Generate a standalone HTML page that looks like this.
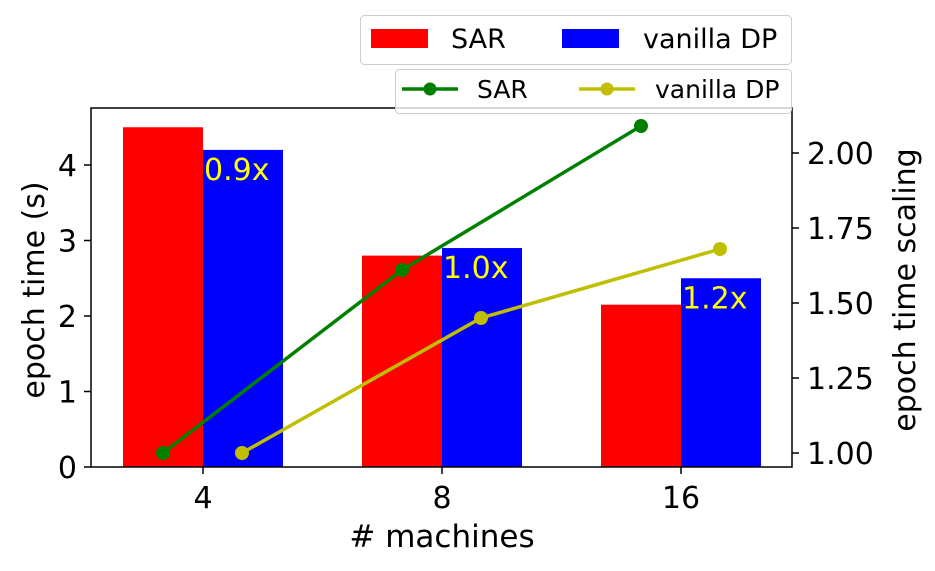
<!DOCTYPE html>
<html><head><meta charset="utf-8"><style>
body{margin:0;background:#fff;}
svg{display:block;font-family:"DejaVu Sans","Liberation Sans",sans-serif;}
</style></head><body>
<svg id="c" width="935" height="571" viewBox="0 0 935 571"></svg>
<script>
const categories = ["4","8","16"];
const sarTime = [4.5, 2.8, 2.15];
const dpTime = [4.2, 2.9, 2.5];
const sarScaling = [1.00, 1.61, 2.09];
const dpScaling = [1.00, 1.45, 1.68];
const ratioLabels = ["0.9x","1.0x","1.2x"];
const leftTicks = [0,1,2,3,4];
const rightTicks = [1.00,1.25,1.50,1.75,2.00];

const NS="http://www.w3.org/2000/svg";
const svg=document.getElementById('c');
function mk(t,a,p){const e=document.createElementNS(NS,t);for(const k in a)e.setAttribute(k,a[k]);(p||svg).appendChild(e);return e;}
const L=91,R=792,T=108,B=467;
const yL=v=>467-v*75.5;
const yR=v=>453-(v-1)*300;
const xC=i=>203+i*239;
const bw=80;

for(let i=0;i<categories.length;i++){
  let r=mk('rect',{x:xC(i)-bw,y:yL(sarTime[i]),width:bw,height:B-yL(sarTime[i]),fill:'#ff0000'});
  
  
  let b=mk('rect',{x:xC(i),y:yL(dpTime[i]),width:bw,height:B-yL(dpTime[i]),fill:'#0000ff'});
  
  
  let t=mk('text',{x:xC(i)+1,y:yL(dpTime[i])+30,fill:'#ffff00','font-size':'30'});
  t.textContent=ratioLabels[i];
  
  
}
function line(vals,dx,color,name){
  const pts=vals.map((v,i)=>[xC(i)+dx,yR(v)]);
  let p=mk('polyline',{points:pts.map(p=>p.join(',')).join(' '),fill:'none',stroke:color,'stroke-width':3.5});
  
  
  pts.forEach((q,i)=>{let c=mk('circle',{cx:q[0],cy:q[1],r:7,fill:color});
    
    });
}
line(sarScaling,-40,'#008000','sar-scaling');
line(dpScaling,39,'#bfbf00','dp-scaling');

let fr=mk('rect',{x:L,y:T,width:R-L,height:B-T,fill:'none',stroke:'#000','stroke-width':1.5});


leftTicks.forEach(v=>{const y=yL(v);mk('line',{x1:L-7,x2:L,y1:y,y2:y,stroke:'#000','stroke-width':1.5});
  let t=mk('text',{x:L-14,y:y+11,'text-anchor':'end','font-size':'30'});t.textContent=v;
  });
rightTicks.forEach(v=>{const y=yR(v);mk('line',{x1:R,x2:R+7,y1:y,y2:y,stroke:'#000','stroke-width':1.5});
  let t=mk('text',{x:R+15,y:y+11,'font-size':'30'});t.textContent=v.toFixed(2);
  });
categories.forEach((c,i)=>{const x=xC(i);mk('line',{x1:x,x2:x,y1:B,y2:B+7,stroke:'#000','stroke-width':1.5});
  let t=mk('text',{x:x,y:B+41,'text-anchor':'middle','font-size':'30'});t.textContent=c;
  });
</script>
<svg style="position:absolute;left:0;top:0" width="935" height="571">
<g font-family="DejaVu Sans, Liberation Sans, sans-serif">
<text x="442" y="547" text-anchor="middle" font-size="31"># machines</text>
<text transform="translate(44,290) rotate(-90)" text-anchor="middle" font-size="30">epoch time  (s)</text>
<text transform="translate(915,290) rotate(-90)" text-anchor="middle" font-size="30">epoch time scaling</text>
<g>
<rect x="360.5" y="15.5" width="431" height="49" rx="4" fill="#fff" fill-opacity="0.8" stroke="#ccc"/>
<rect x="371" y="29" width="57" height="19" fill="#ff0000"/>
<text x="451" y="48" font-size="27">SAR</text>
<rect x="562" y="29" width="57" height="19" fill="#0000ff"/>
<text x="643" y="48" font-size="27">vanilla DP</text>
</g>
<g>
<rect x="395.5" y="69.5" width="396" height="44" rx="4" fill="#fff" fill-opacity="0.8" stroke="#ccc"/>
<line x1="402" x2="458" y1="89" y2="89" stroke="#008000" stroke-width="3.5"/>
<circle cx="430" cy="89" r="6.5" fill="#008000"/>
<text x="477" y="98" font-size="25">SAR</text>
<line x1="579" x2="635" y1="89" y2="89" stroke="#bfbf00" stroke-width="3.5"/>
<circle cx="607" cy="89" r="6.5" fill="#bfbf00"/>
<text x="655" y="98" font-size="25">vanilla DP</text>
</g>
</g>
</svg>
</body></html>
